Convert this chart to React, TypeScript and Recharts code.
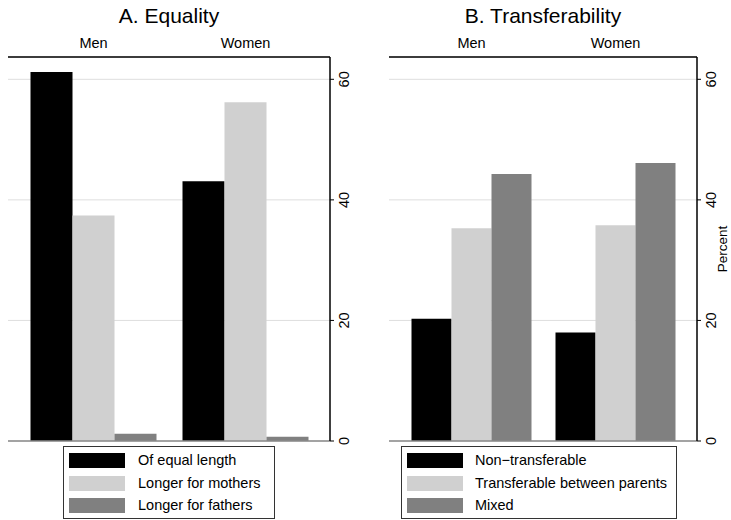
import React from "react";
import { BarChart, Bar, XAxis, YAxis, CartesianGrid, ReferenceLine } from "recharts";

const groups = ["Men", "Women"];
const equalityLabels = ["Of equal length", "Longer for mothers", "Longer for fathers"];
const equalityMen = [61.2, 37.4, 1.2];
const equalityWomen = [43.1, 56.2, 0.7];
const transferLabels = ["Non\u2212transferable", "Transferable between parents", "Mixed"];
const transferMen = [20.3, 35.3, 44.3];
const transferWomen = [18.0, 35.8, 46.1];
const yTicks = [0, 20, 40, 60];
const yMax = 63.7;
const seriesColors = ["#000000", "#d0d0d0", "#808080"];

const FONT = "'Liberation Sans', Arial, Helvetica, sans-serif";

function buildRows(men: number[], women: number[]) {
  const vals = [men, women];
  return groups.map((g, i) => ({ group: g, s0: vals[i][0], s1: vals[i][1], s2: vals[i][2] }));
}

const RightTick = (props: any) => {
  const { x, y, payload } = props;
  const bx = x + 15;
  return (
    <text x={bx} y={y} transform={`rotate(-90, ${bx}, ${y})`} textAnchor="middle" fontSize={14.5} fill="#000" fontFamily={FONT}>
      {payload.value}
    </text>
  );
};

const TopTick = (props: any) => {
  const { x, y, payload } = props;
  return (
    <text x={x} y={y - 9} textAnchor="middle" fontSize={14.5} fill="#000" fontFamily={FONT}>
      {payload.value}
    </text>
  );
};

function Panel(props: {
  width: number;
  marginLeft: number;
  axisWidth: number;
  rows: any[];
  labels: string[];
  barSize: number;
  padLeft: number;
  padRight: number;
}) {
  const { width, marginLeft, axisWidth, rows, labels, barSize, padLeft, padRight } = props;
  return (
    <BarChart
      width={width}
      height={520}
      data={rows}
      margin={{ top: 0, right: 0, left: marginLeft, bottom: 79 }}
      barGap={0}
      barSize={barSize}
    >
      <CartesianGrid yAxisId="r" horizontal={true} vertical={false} stroke="#dedede" strokeWidth={1} />
      <XAxis
        dataKey="group"
        orientation="top"
        height={57}
        axisLine={{ stroke: "#000", strokeWidth: 1.5 }}
        tickLine={false}
        tickSize={0}
        tickMargin={0}
        tick={<TopTick />}
        padding={{ left: padLeft, right: padRight }}
        interval={0}
      />
      <YAxis
        yAxisId="l"
        orientation="left"
        width={0}
        domain={[0, yMax]}
        ticks={yTicks}
        tick={false}
        tickLine={false}
        axisLine={{ stroke: "#7a7a7a", strokeWidth: 1.5 }}
      />
      <YAxis
        yAxisId="r"
        orientation="right"
        width={axisWidth}
        domain={[0, yMax]}
        ticks={yTicks}
        allowDataOverflow={true}
        tickSize={4}
        tickMargin={0}
        tickLine={{ stroke: "#000" }}
        axisLine={{ stroke: "#000", strokeWidth: 1.5 }}
        tick={<RightTick />}
        interval={0}
      />
      {labels.map((name, i) => (
        <Bar key={name} yAxisId="r" dataKey={`s${i}`} name={name} fill={seriesColors[i]} isAnimationActive={false} />
      ))}
      <ReferenceLine yAxisId="r" y={0} stroke="#8a8a8a" strokeWidth={1.5} />
    </BarChart>
  );
}

function LegendBox(props: { left: number; width: number; labels: string[]; swatchLeft: number; textLeft: number }) {
  const { left, width, labels, swatchLeft, textLeft } = props;
  return (
    <div
      style={{
        position: "absolute",
        left,
        top: 446,
        width,
        height: 73,
        boxSizing: "border-box",
        border: "1px solid #333",
        background: "#fff",
      }}
    >
      {labels.map((name, i) => (
        <div key={name} style={{ position: "absolute", left: 0, top: 6 + i * 22.5, height: 15, width: "100%" }}>
          <div style={{ position: "absolute", left: swatchLeft, top: 0, width: 56, height: 15, background: seriesColors[i] }} />
          <div
            style={{
              position: "absolute",
              left: textLeft,
              top: -1,
              fontSize: 14.5,
              lineHeight: "17px",
              whiteSpace: "nowrap",
              fontFamily: FONT,
              color: "#000",
            }}
          >
            {name}
          </div>
        </div>
      ))}
    </div>
  );
}

export default function App() {
  const rowsA = buildRows(equalityMen, equalityWomen);
  const rowsB = buildRows(transferMen, transferWomen);
  const titleStyle: React.CSSProperties = {
    position: "absolute",
    top: 4,
    fontSize: 21,
    lineHeight: "24px",
    fontFamily: FONT,
    textAlign: "center",
    color: "#000",
    whiteSpace: "nowrap",
  };
  return (
    <div
      style={{
        position: "absolute",
        left: 0,
        top: 0,
        width: 731,
        height: 520,
        overflow: "hidden",
        background: "#fff",
        fontFamily: FONT,
      }}
    >
      <div style={{ position: "absolute", left: 0, top: 0 }}>
        <Panel width={365} marginLeft={8} axisWidth={35} rows={rowsA} labels={equalityLabels} barSize={42} padLeft={9.5} padRight={8.5} />
      </div>
      <div style={{ position: "absolute", left: 365, top: 0 }}>
        <Panel width={366} marginLeft={24} axisWidth={34} rows={rowsB} labels={transferLabels} barSize={40} padLeft={10.5} padRight={9.5} />
      </div>
      <div style={{ ...titleStyle, left: 69, width: 200 }}>A. Equality</div>
      <div style={{ ...titleStyle, left: 443, width: 200 }}>B. Transferability</div>
      <div
        style={{
          position: "absolute",
          left: 673,
          top: 241,
          width: 100,
          height: 16,
          lineHeight: "16px",
          fontSize: 13.5,
          textAlign: "center",
          fontFamily: FONT,
          transform: "rotate(-90deg)",
          transformOrigin: "50% 50%",
          whiteSpace: "nowrap",
        }}
      >
        Percent
      </div>
      <LegendBox left={63} width={212} labels={equalityLabels} swatchLeft={5} textLeft={74} />
      <LegendBox left={401} width={276} labels={transferLabels} swatchLeft={5} textLeft={73} />
    </div>
  );
}
